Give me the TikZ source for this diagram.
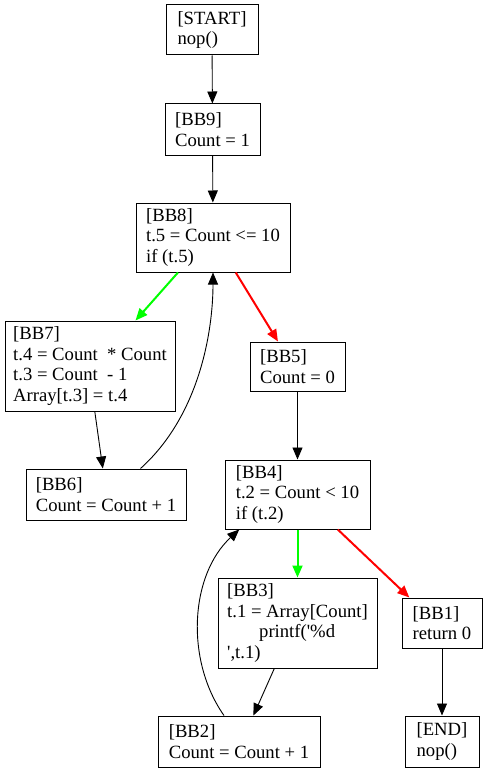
\documentclass[tikz,border=0pt]{standalone}
\usepackage{fontspec}
\setmainfont{Liberation Serif}[Ligatures=TeXOff]
\usetikzlibrary{arrows.meta}
\begin{document}
\begin{tikzpicture}[x=1pt,y=-1pt,
  blk/.style={draw,line width=1pt,align=left,inner sep=0pt,
    font=\fontsize{18.67}{20.5}\selectfont},
  link/.style={-{Triangle[length=12pt,width=10pt]},line width=0.9pt},
  yes/.style={link,green,line width=2pt},
  no/.style={link,red,line width=2pt}]
  \useasboundingbox (0,0) rectangle (487,773);
  % blocks
  \node[blk,minimum width=92pt,minimum height=50pt] (start) at (212,30) {[START]\\nop()};
  \node[blk,minimum width=95pt,minimum height=51pt] (bb9) at (212.5,129.5) {[BB9]\\Count = 1};
  \node[blk,minimum width=154pt,minimum height=69pt] (bb8) at (213,237.5)
       {[BB8]\\t.5 = Count <= 10\\if (t.5)};
  \node[blk,minimum width=170pt,minimum height=90pt] (bb7) at (90,366)
       {[BB7]\\t.4 = Count\ \ * Count\\t.3 = Count\ \ - 1\\Array[t.3] = t.4};
  \node[blk,minimum width=95pt,minimum height=49pt] (bb5) at (297.5,366.5) {[BB5]\\Count = 0};
  \node[blk,minimum width=160pt,minimum height=51pt] (bb6) at (106,494.5) {[BB6]\\Count = Count + 1};
  \node[blk,minimum width=145pt,minimum height=69pt] (bb4) at (297.5,494.5)
       {[BB4]\\t.2 = Count < 10\\if (t.2)};
  \node[blk,minimum width=159pt,minimum height=90pt] (bb3) at (297.5,623)
       {[BB3]\\t.1 = Array[Count]\\\hspace*{32pt}printf('\%d\\',t.1)};
  \node[blk,minimum width=80pt,minimum height=50pt] (bb1) at (442,623) {[BB1]\\return 0};
  \node[blk,minimum width=162pt,minimum height=51pt] (bb2) at (239,741.5) {[BB2]\\Count = Count + 1};
  \node[blk,minimum width=74pt,minimum height=51pt] (end) at (442,741.5) {[END]\\nop()};
  % edges
  \draw[link] (start) -- (bb9);
  \draw[link] (bb9) -- (bb8);
  \draw[yes] (bb8.225) -- (bb7.45);
  \draw[no] (bb8.-57) -- (bb5.128);
  \draw[link] (bb7.-84) -- (bb6.97);
  \draw[link] (bb6.37) .. controls (200,415) and (213,330) .. (bb8.south);
  \draw[link] (bb5) -- (bb4);
  \draw[yes] (bb4.south) -- (bb3.north);
  \draw[no] (bb4.-41) -- (bb1.142);
  \draw[link] (bb3.-117) -- (bb2.61);
  \draw[link] (bb2.120) .. controls (185,660) and (190,575) .. (bb4.211);
  \draw[link] (bb1) -- (end);
\end{tikzpicture}
\end{document}
